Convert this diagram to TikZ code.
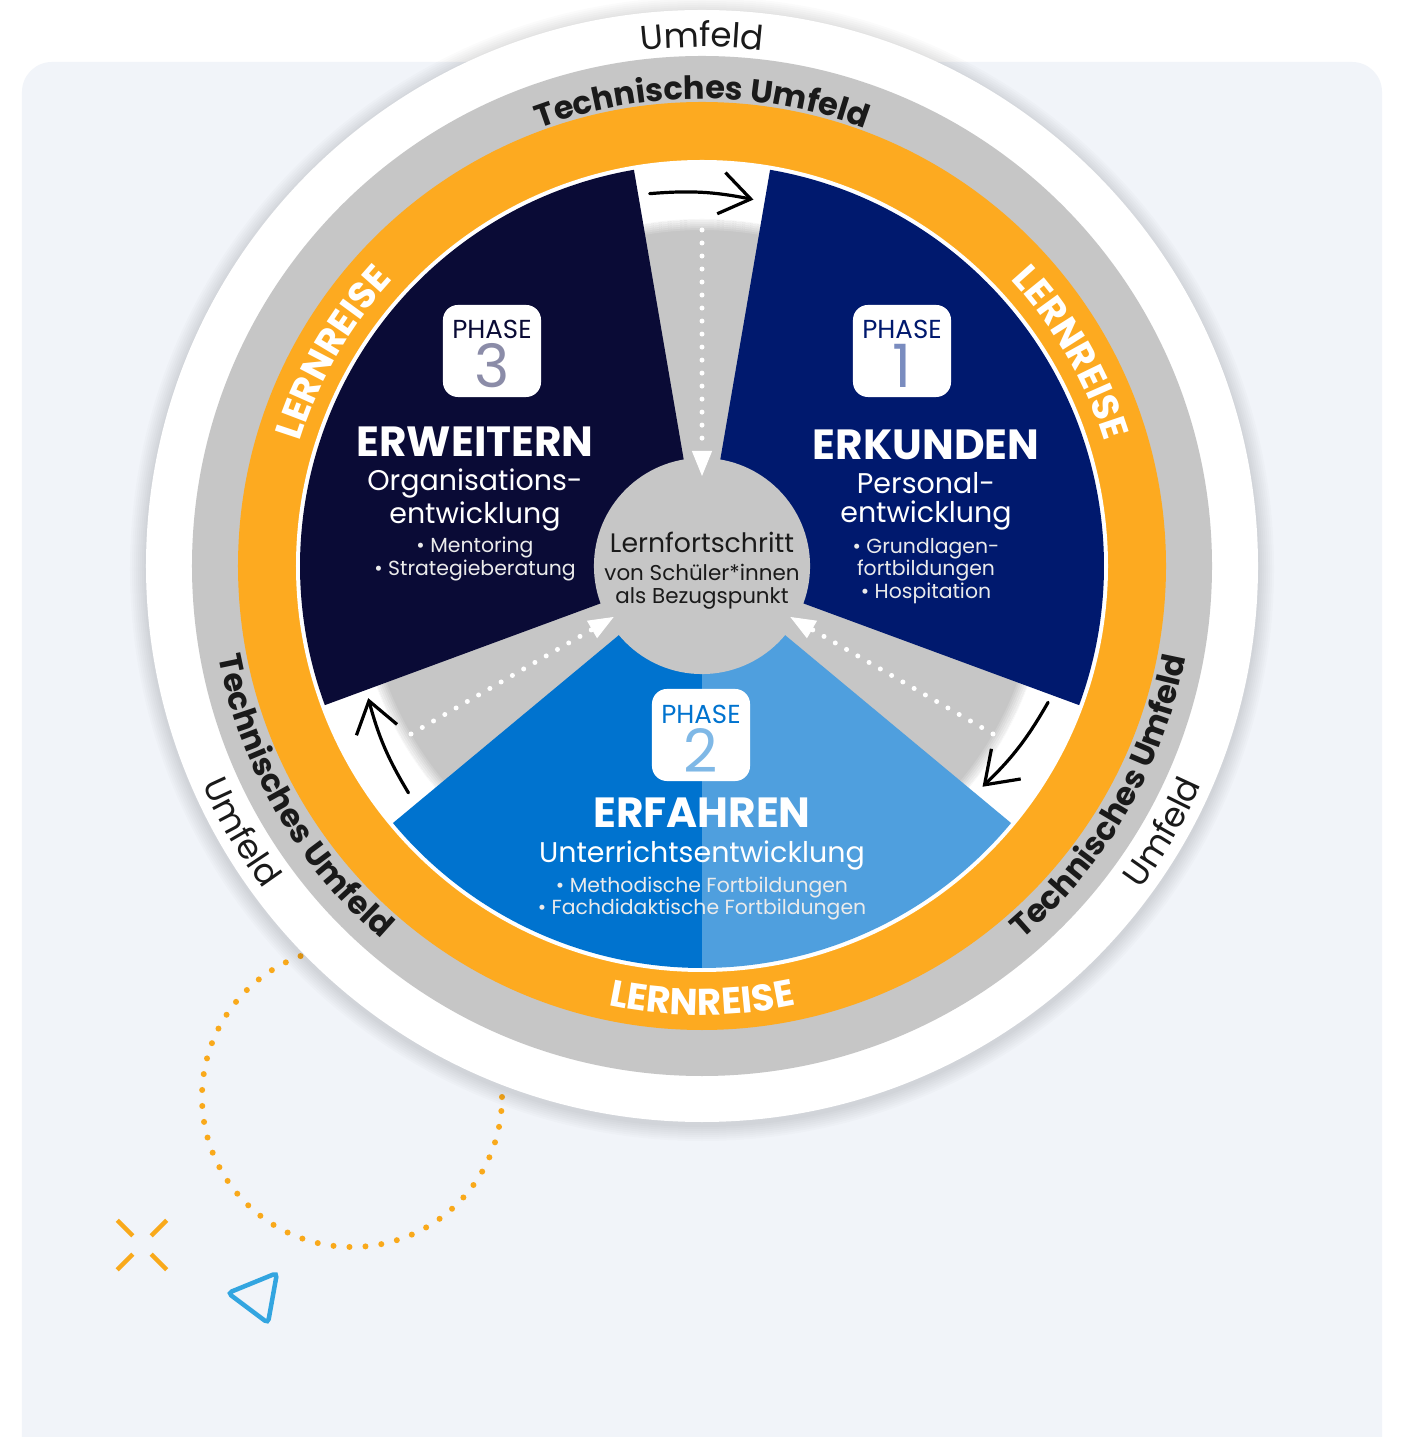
\documentclass[tikz,border=0pt]{standalone}
\usepackage{fontspec}
\setmainfont{Poppins}
\usetikzlibrary{positioning,arrows.meta,decorations.text}

\definecolor{panelbg}{HTML}{F1F4F9}
\definecolor{wheelgray}{HTML}{C6C6C6}
\definecolor{lorange}{HTML}{FDAA20}
\definecolor{dotorange}{HTML}{F9A91B}
\definecolor{p3col}{HTML}{0A0B36}
\definecolor{p1col}{HTML}{00196E}
\definecolor{p2left}{HTML}{0073CF}
\definecolor{p2right}{HTML}{4F9FDE}
\definecolor{p3num}{HTML}{8B8CA8}
\definecolor{p1num}{HTML}{7A8CBF}
\definecolor{p2num}{HTML}{7FB8E6}
\definecolor{triblue}{HTML}{33A5E0}
\definecolor{coretext}{HTML}{1A1A1A}

\newcommand{\lernfont}{\color{white}\bfseries\fontsize{10.6}{12}\selectfont}
\newcommand{\techfont}{\color{coretext}\bfseries\fontsize{9.1}{12}\selectfont}
\newcommand{\umfont}{\color{coretext}\fontsize{9.7}{12}\selectfont}

\begin{document}
\begin{tikzpicture}[
  x=0.01cm, y=0.01cm,
  phasebox/.style={rectangle, fill=white, rounded corners=0.15cm, minimum width=0.98cm, minimum height=0.92cm},
  phaselbl/.style={font=\fontsize{7.4}{8}\selectfont, inner sep=0pt},
  phasenum/.style={font=\fontsize{17}{17}\selectfont, inner sep=0pt},
  phasetitle/.style={text=white, font=\bfseries\fontsize{12}{12}\selectfont, inner sep=0pt},
  phasesub/.style={text=white, align=center, font=\fontsize{8.1}{8.3}\selectfont, inner sep=0pt},
  phaseitems/.style={text=white!92!black, align=center, font=\fontsize{5.8}{6.5}\selectfont, inner sep=0pt},
  ringout/.style={decorate, decoration={text along path, text align=center, text={#1}}},
  dotline/.style={white, line width=0.05cm, line cap=round, dash pattern=on 0pt off 0.13cm},
  dottip/.style={white, line width=0.01cm, -{Triangle[length=0.25cm, width=0.2cm]}},
  handarrow/.style={black, line width=0.032cm, line cap=round, -{Straight Barb[length=0.3cm, width=0.42cm]}},
  sparkline/.style={dotorange, line width=0.045cm},
]
\useasboundingbox (-702,566) rectangle (698,-871);
\fill[white] (-702,566) rectangle (698,-871);

% panel and deco
\fill[panelbg, rounded corners=0.3cm] (-680,504) rectangle (680,-920);
\draw[dotorange, line width=0.06cm, line cap=round, dash pattern=on 0pt off 0.16cm] (-350,-531) circle[radius=150];

% outer rings
\foreach \k in {1,...,8}
  \fill[black, opacity=0.014] (0,-3) circle[radius=556+\k*2];
\fill[white] (0,0) circle[radius=556];
\fill[wheelgray] (0,0) circle[radius=510];
\fill[lorange] (0,0) circle[radius=464];
\fill[white] (0,0) circle[radius=406];
\fill[wheelgray] (0,0) circle[radius=347];
\foreach \k in {1,...,6}
  \draw[white, opacity=\k/7, line width=0.021cm] (0,0) circle[radius=335+2*\k];

% sectors
\fill[p1col] (0,0) -- (-20.25:402) arc[start angle=-20.25, end angle=80.25, radius=402] -- cycle;
\fill[p3col] (0,0) -- (99.75:402) arc[start angle=99.75, end angle=200.25, radius=402] -- cycle;
\fill[p2left] (0,0) -- (219.75:402) arc[start angle=219.75, end angle=270, radius=402] -- cycle;
\fill[p2right] (0,0) -- (270:402) arc[start angle=270, end angle=320.25, radius=402] -- cycle;

% ring texts
\path[ringout={|\umfont|Umfeld}] (120:519) arc[start angle=120, end angle=60, radius=519];
\path[ringout={|\umfont|Umfeld}] (180:545) arc[start angle=180, end angle=240, radius=545];
\path[ringout={|\umfont|Umfeld}] (300:545) arc[start angle=300, end angle=360, radius=545];
\path[ringout={|\techfont|Technisches Umfeld}] (150:467) arc[start angle=150, end angle=30, radius=467];
\path[ringout={|\techfont|Technisches Umfeld}] (160:492) arc[start angle=160, end angle=260, radius=492];
\path[ringout={|\techfont|Technisches Umfeld}] (280:492) arc[start angle=280, end angle=380, radius=492];
\path[ringout={|\lernfont|LERNREISE}] (190:421) arc[start angle=190, end angle=110, radius=421];
\path[ringout={|\lernfont|LERNREISE}] (70:421) arc[start angle=70, end angle=-10, radius=421];
\path[ringout={|\lernfont|LERNREISE}] (230:449) arc[start angle=230, end angle=310, radius=449];

% center
\node[circle, fill=wheelgray, minimum size=2.16cm, inner sep=0pt] (core) at (0,0) {};
\node[align=center, text=coretext, inner sep=0pt, font=\fontsize{6.1}{6.6}\selectfont] (coretxt)
  at ([yshift=-0.045cm]core.center)
  {{\fontsize{7.6}{8}\selectfont Lernfortschritt}\\[1.4pt]von Schüler*innen\\als Bezugspunkt};

% dotted arrows into the center
\coordinate (topout) at (90:336);
\coordinate (topmid) at (90:115);
\coordinate (toptip) at (90:90);
\coordinate (rightout) at (-30:336);
\coordinate (rightmid) at (-30:127);
\coordinate (righttip) at (-30:102);
\coordinate (leftout) at (210:336);
\coordinate (leftmid) at (210:127);
\coordinate (lefttip) at (210:102);
\draw[dotline] (topout) -- (topmid);
\draw[dottip] (topmid) -- (toptip);
\draw[dotline] (rightout) -- (rightmid);
\draw[dottip] (rightmid) -- (righttip);
\draw[dotline] (leftout) -- (leftmid);
\draw[dottip] (leftmid) -- (lefttip);

% hand drawn arrows
\coordinate (topA) at (98:376);
\coordinate (topB) at (82:370);
\coordinate (rightA) at (-21.5:372);
\coordinate (rightB) at (-38.2:357);
\coordinate (leftA) at (217.7:371);
\coordinate (leftB) at (201.6:359);
\draw[handarrow] (topA) to[bend left=8] (topB);
\draw[handarrow] (rightA) to[bend left=8] (rightB);
\draw[handarrow] (leftA) to[bend left=8] (leftB);

% Phase 3
\node[phasebox] (p3box) at (-210,215) {};
\node[phaselbl, text=p3col] (p3lbl) at ([yshift=0.22cm]p3box.center) {PHASE};
\node[phasenum, text=p3num] (p3num) at ([yshift=-0.15cm]p3box.center) {3};
\node[phasetitle] (p3title) at (-227,124) {ERWEITERN};
\node[phasesub, below of=p3title, node distance=0.58cm] (p3sub) {Organisations-\\entwicklung};
\node[phaseitems, below of=p3sub, node distance=0.59cm] (p3items) {• Mentoring\\• Strategieberatung};

% Phase 1
\node[phasebox] (p1box) at (200,215) {};
\node[phaselbl, text=p1col] (p1lbl) at ([yshift=0.22cm]p1box.center) {PHASE};
\node[phasenum, text=p1num] (p1num) at ([yshift=-0.15cm]p1box.center) {1};
\node[phasetitle] (p1title) at (224,121) {ERKUNDEN};
\node[phasesub, below of=p1title, node distance=0.56cm] (p1sub) {Personal-\\entwicklung};
\node[phaseitems, below of=p1sub, node distance=0.7cm] (p1items) {• Grundlagen-\\fortbildungen\\• Hospitation};

% Phase 2
\node[phasebox] (p2box) at (-1,-169) {};
\node[phaselbl, text=p2left] (p2lbl) at ([yshift=0.21cm]p2box.center) {PHASE};
\node[phasenum, text=p2num] (p2num) at ([yshift=-0.15cm]p2box.center) {2};
\node[phasetitle] (p2title) at (0,-247) {ERFAHREN};
\node[phasesub, below of=p2title, node distance=0.42cm] (p2sub) {Unterrichtsentwicklung};
\node[phaseitems, below of=p2sub, node distance=0.435cm] (p2items) {• Methodische Fortbildungen\\• Fachdidaktische Fortbildungen};

% sparkle and triangle
\coordinate (spark) at (-560,-679);
\draw[sparkline] ([shift={(45:13)}]spark) -- ([shift={(45:35)}]spark);
\draw[sparkline] ([shift={(135:13)}]spark) -- ([shift={(135:35)}]spark);
\draw[sparkline] ([shift={(225:13)}]spark) -- ([shift={(225:35)}]spark);
\draw[sparkline] ([shift={(315:13)}]spark) -- ([shift={(315:35)}]spark);
\draw[triblue, line width=0.045cm, rounded corners=0.04cm] (-474,-727) -- (-425,-707) -- (-434,-757) -- cycle;

\end{tikzpicture}
\end{document}
